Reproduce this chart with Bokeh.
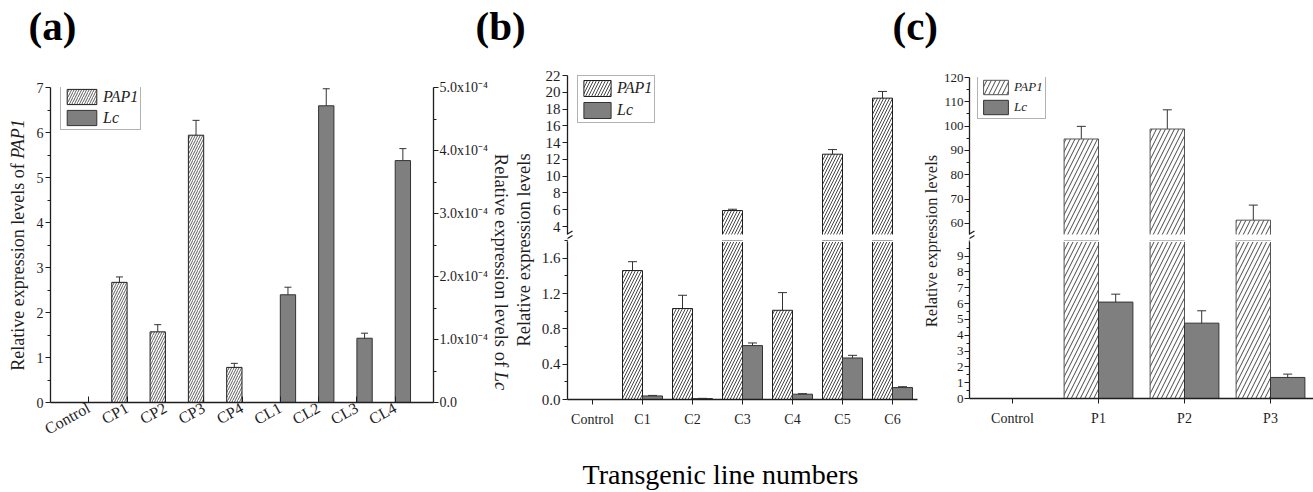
import math
from bokeh.plotting import figure
from bokeh.models import (ColumnDataSource, Range1d, LinearAxis, FixedTicker,
                          CustomJSTickFormatter, NumeralTickFormatter, Whisker, TeeHead,
                          Label, Legend, LegendItem, BoxAnnotation, Arrow, Div)
from bokeh.transform import dodge
from bokeh.layouts import row, column
from bokeh.embed import file_html
from bokeh.resources import INLINE

# ---------------- data ----------------
a_categories = ["Control", "CP1", "CP2", "CP3", "CP4", "CL1", "CL2", "CL3", "CL4"]
a_pap1 = [0.0, 2.67, 1.57, 5.94, 0.78, 0.0, 0.0, 0.0, 0.0]
a_pap1_err = [0.0, 0.12, 0.16, 0.33, 0.09, 0.0, 0.0, 0.0, 0.0]
a_lc = [0.0, 0.0, 0.0, 0.0, 0.0, 1.71e-4, 4.71e-4, 1.02e-4, 3.84e-4]
a_lc_err = [0.0, 0.0, 0.0, 0.0, 0.0, 0.12e-4, 0.27e-4, 0.08e-4, 0.19e-4]

b_categories = ["Control", "C1", "C2", "C3", "C4", "C5", "C6"]
b_pap1 = [0.0, 1.46, 1.03, 5.91, 1.01, 12.62, 19.3]
b_pap1_err = [0.0, 0.10, 0.15, 0.15, 0.20, 0.55, 0.80]
b_lc = [0.0, 0.04, 0.01, 0.61, 0.06, 0.47, 0.135]
b_lc_err = [0.0, 0.006, 0.003, 0.03, 0.006, 0.03, 0.01]

c_categories = ["Control", "P1", "P2", "P3"]
c_pap1 = [0.0, 94.7, 98.8, 61.3]
c_pap1_err = [0.0, 5.2, 7.9, 6.2]
c_lc = [0.0, 6.09, 4.76, 1.33]
c_lc_err = [0.0, 0.5, 0.78, 0.21]

a_left_ticks = [0, 1, 2, 3, 4, 5, 6, 7]
a_right_ticks = [0.0, 1e-4, 2e-4, 3e-4, 4e-4, 5e-4]
b_upper_ticks = [4, 6, 8, 10, 12, 14, 16, 18, 20, 22]
b_lower_ticks = [0.0, 0.4, 0.8, 1.2, 1.6]
c_upper_ticks = [60, 70, 80, 90, 100, 110, 120]
c_lower_ticks = [0, 1, 2, 3, 4, 5, 6, 7, 8, 9]

series_names = ["PAP1", "Lc"]
y_label_plain = "Relative expression levels of"
y_label_short = "Relative expression levels"
x_title = "Transgenic line numbers"
panel_tags = ["(a)", "(b)", "(c)"]

# ---------------- style ----------------
FONT = "Liberation Serif"
INK = "#1e1e1e"
BAR_GRAY = "#7f7f7f"
GAP = 6            # px of white space at an axis break
ROW_H = 395        # height of the panel row (page y 60..455)


def make_fig(width, height, x_range, y_range, left, right, top, bottom, x_axis=True):
    p = figure(width=width, height=height, x_range=x_range, y_range=y_range,
               output_backend="svg", toolbar_location=None,
               x_axis_location="below" if x_axis else None,
               min_border_left=left, min_border_right=right,
               min_border_top=top, min_border_bottom=bottom)
    p.outline_line_color = None
    p.grid.visible = False
    p.background_fill_color = "white"
    p.border_fill_color = "white"
    return p


def text_fig(width, height):
    p = figure(width=width, height=height, x_range=Range1d(0, width),
               y_range=Range1d(height, 0), output_backend="svg",
               toolbar_location=None, x_axis_location=None, y_axis_location=None,
               min_border=0)
    p.outline_line_color = None
    p.grid.visible = False
    p.background_fill_color = "white"
    p.border_fill_color = "white"
    return p


def vlabel(width, cx, cy, html, fs, up=True):
    """vertical axis title as real (HTML) text, centred at (cx, cy) inside its column"""
    rot = -90 if up else 90
    inner = (f'<div style="position:relative;width:{width}px;height:{ROW_H}px;">'
             f'<div style="position:absolute;left:{cx}px;top:{cy}px;'
             f'transform:translate(-50%,-50%) rotate({rot}deg);white-space:nowrap;'
             f"font-family:'{FONT}',serif;font-size:{fs}px;line-height:1;"
             f'color:{INK};">{html}</div></div>')
    return Div(text=inner, width=width, height=ROW_H, margin=0)


def style_axis(ax, size, standoff=3):
    ax.axis_line_color = INK
    ax.axis_line_width = 1.3
    ax.major_tick_line_color = INK
    ax.minor_tick_line_color = INK
    ax.major_tick_out = 5
    ax.major_tick_in = 0
    ax.minor_tick_out = 3
    ax.minor_tick_in = 0
    ax.major_label_text_font = FONT
    ax.major_label_text_font_size = f"{size}px"
    ax.major_label_text_color = INK
    ax.major_label_standoff = standoff


def add_bars(p, src, hatch_scale, hatch_weight=0.9, line_color=INK, lc_range="default"):
    r1 = p.vbar(x=dodge("x", -0.2), top="pap1", width=0.4, source=src,
                fill_color="white", line_color=line_color, line_width=1,
                hatch_pattern="/", hatch_color="#333333", hatch_scale=hatch_scale,
                hatch_weight=hatch_weight)
    r2 = p.vbar(x=dodge("x", 0.2), top="lc", width=0.4, source=src,
                fill_color=BAR_GRAY, line_color="#333333", line_width=1,
                y_range_name=lc_range)
    return r1, r2


def add_whiskers(p, xs, vals, errs, offset, lo, hi, head, range_name="default"):
    keep = [i for i in range(len(xs)) if errs[i] > 0 and lo <= vals[i] <= hi]
    if not keep:
        return
    src = ColumnDataSource(dict(
        x=[xs[i] for i in keep],
        upper=[vals[i] + errs[i] for i in keep],
        lower=[vals[i] - errs[i] for i in keep]))
    w = Whisker(base=dodge("x", offset), upper="upper", lower="lower", source=src,
                dimension="height", line_color="#333333", line_width=1,
                upper_head=TeeHead(size=head, line_color="#333333", line_width=1),
                lower_head=TeeHead(size=head, line_color="#333333", line_width=1),
                y_range_name=range_name)
    p.add_layout(w)


def add_legend(p, r1, r2, loc, gw, gh, fs):
    leg = Legend(items=[LegendItem(label=series_names[0], renderers=[r1]),
                        LegendItem(label=series_names[1], renderers=[r2])],
                 location=loc, orientation="vertical",
                 label_text_font=FONT, label_text_font_style="italic",
                 label_text_font_size=f"{fs}px", label_text_color=INK,
                 glyph_width=gw, glyph_height=gh, label_height=gh,
                 padding=2, spacing=2, margin=0, label_standoff=3,
                 border_line_color="#666666", border_line_width=1,
                 background_fill_color="white", background_fill_alpha=1.0)
    p.add_layout(leg)


def break_top(p, x0, px_x, y_start, px_y, frame_bottom_px):
    """white gap at the bottom of an upper panel + two slanted break strokes."""
    y_break = y_start + GAP / px_y
    p.add_layout(BoxAnnotation(top=y_break, fill_color="white", fill_alpha=1.0,
                               line_color=None))

    def ydat(ypx):
        return y_start + (frame_bottom_px - ypx) / px_y

    for off in (0, 4.5):
        p.add_layout(Arrow(start=None, end=None,
                           x_start=x0 - 5 / px_x, y_start=ydat(236.5 + off),
                           x_end=x0 + 5 / px_x, y_end=ydat(230.5 + off),
                           line_color=INK, line_width=1.2))
    return y_break


def break_bottom(p, y_end, px_y):
    p.add_layout(BoxAnnotation(bottom=y_end - 1.5 / px_y, fill_color="white",
                               fill_alpha=1.0, line_color=None))


# ---------------- panel (a) ----------------
a_x = list(range(len(a_categories)))
src_a = ColumnDataSource(dict(x=a_x, pap1=a_pap1, lc=a_lc))
pa = make_fig(462, ROW_H, Range1d(-1, len(a_categories)), Range1d(0, 7),
              left=22, right=55, top=27, bottom=53)
pa.extra_y_ranges = {"lc": Range1d(0, 5e-4)}
ra1, ra2 = add_bars(pa, src_a, hatch_scale=5, hatch_weight=0.8, lc_range="lc")
add_whiskers(pa, a_x, a_pap1, a_pap1_err, -0.2, 0, 7, 7)
add_whiskers(pa, a_x, a_lc, a_lc_err, 0.2, 0, 5e-4, 7, range_name="lc")

pa.yaxis.ticker = FixedTicker(ticks=a_left_ticks,
                              minor_ticks=[t + 0.5 for t in a_left_ticks[:-1]])
style_axis(pa.yaxis[0], 14, standoff=2)
pa.xaxis.ticker = FixedTicker(ticks=a_x)
pa.xaxis.major_label_overrides = {i: c for i, c in enumerate(a_categories)}
style_axis(pa.xaxis[0], 16, standoff=4)
pa.xaxis.major_tick_in = 6
pa.xaxis.major_tick_out = 0
pa.xaxis.major_label_orientation = 0.5

right_ax = LinearAxis(y_range_name="lc",
                      ticker=FixedTicker(ticks=a_right_ticks,
                                         minor_ticks=[t + 0.5e-4 for t in a_right_ticks[:-1]]),
                      formatter=CustomJSTickFormatter(code="""
                          if (Math.abs(tick) < 1e-12) { return "0.0"; }
                          return (tick * 1e4).toFixed(1) + "x10\u207B\u2074";
                      """))
style_axis(right_ax, 14, standoff=1)
pa.add_layout(right_ax, "right")
add_legend(pa, ra1, ra2, (10, 272), 37, 19, 16)

labA = vlabel(28, 17.5, 245 - 60, f"{y_label_plain} <i>{series_names[0]}</i>", 18, up=True)
labAR = vlabel(22, 11, 271.7 - 60, f"{y_label_plain} <i>{series_names[1]}</i>", 18.5, up=False)

# ---------------- panel (b) ----------------
b_x = list(range(len(b_categories)))
src_b = ColumnDataSource(dict(x=b_x, pap1=b_pap1, lc=b_lc))
b_xr = Range1d(-0.5, len(b_categories) - 0.5)
b_px_x = 350 / len(b_categories)
b_up_px = 8.39
b_up = (3.05 - GAP / b_up_px, 22.0)
b_lo = (0.0, 1.8)
b_lo_px = 159 / 1.8

pbt = make_fig(384, 180, b_xr, Range1d(*b_up), left=33, right=1, top=15, bottom=0,
               x_axis=False)
rb1, rb2 = add_bars(pbt, src_b, hatch_scale=6)
add_whiskers(pbt, b_x, b_pap1, b_pap1_err, -0.2, b_up[0], b_up[1], 9)
pbt.yaxis.ticker = FixedTicker(ticks=b_upper_ticks)
style_axis(pbt.yaxis[0], 15, standoff=2)
add_legend(pbt, rb1, rb2, (10, 117), 34, 20, 16)
yb = break_top(pbt, -0.5, b_px_x, b_up[0], b_up_px, 240)
pbt.yaxis.bounds = (yb, b_up[1])

pbb = make_fig(384, 215, b_xr, Range1d(*b_lo), left=33, right=1, top=0, bottom=56)
add_bars(pbb, src_b, hatch_scale=6)
add_whiskers(pbb, b_x, b_pap1, b_pap1_err, -0.2, b_lo[0], b_lo[1], 9)
add_whiskers(pbb, b_x, b_lc, b_lc_err, 0.2, b_lo[0], b_lo[1], 9)
pbb.yaxis.ticker = FixedTicker(ticks=b_lower_ticks,
                               minor_ticks=[t + 0.2 for t in b_lower_ticks])
pbb.yaxis.formatter = NumeralTickFormatter(format="0.0")
style_axis(pbb.yaxis[0], 15, standoff=2)
pbb.xaxis.ticker = FixedTicker(ticks=b_x)
pbb.xaxis.major_label_overrides = {i: c for i, c in enumerate(b_categories)}
style_axis(pbb.xaxis[0], 14, standoff=7)
break_bottom(pbb, b_lo[1], b_lo_px)

labB = vlabel(22, 12, 250 - 60, y_label_short, 18.5, up=True)

# ---------------- panel (c) ----------------
c_x = list(range(len(c_categories)))
src_c = ColumnDataSource(dict(x=c_x, pap1=c_pap1, lc=c_lc))
c_xr = Range1d(-0.5, len(c_categories) - 0.5)
c_px_x = 347 / len(c_categories)
c_up_px = 2.43
c_up = (55.4 - GAP / c_up_px, 120.0)
c_lo = (0.0, 9.98)
c_lo_px = 158 / 9.98

pct = make_fig(373, 180, c_xr, Range1d(*c_up), left=26, right=0, top=17, bottom=0,
               x_axis=False)
rc1, rc2 = add_bars(pct, src_c, hatch_scale=9, line_color="#555555")
add_whiskers(pct, c_x, c_pap1, c_pap1_err, -0.2, c_up[0], c_up[1], 9)
pct.yaxis.ticker = FixedTicker(ticks=c_upper_ticks,
                               minor_ticks=[t + 5 for t in c_upper_ticks[:-1]])
style_axis(pct.yaxis[0], 13, standoff=1)
add_legend(pct, rc1, rc2, (8, 121), 31, 18, 13)
yc = break_top(pct, -0.5, c_px_x, c_up[0], c_up_px, 240)
pct.yaxis.bounds = (yc, c_up[1])

pcb = make_fig(373, 215, c_xr, Range1d(*c_lo), left=26, right=0, top=0, bottom=57)
add_bars(pcb, src_c, hatch_scale=9, line_color="#555555")
add_whiskers(pcb, c_x, c_pap1, c_pap1_err, -0.2, c_lo[0], c_lo[1], 9)
add_whiskers(pcb, c_x, c_lc, c_lc_err, 0.2, c_lo[0], c_lo[1], 9)
pcb.yaxis.ticker = FixedTicker(ticks=c_lower_ticks,
                               minor_ticks=[t + 0.5 for t in c_lower_ticks])
style_axis(pcb.yaxis[0], 13, standoff=1)
pcb.xaxis.ticker = FixedTicker(ticks=c_x)
pcb.xaxis.major_label_overrides = {i: c for i, c in enumerate(c_categories)}
style_axis(pcb.xaxis[0], 14, standoff=7)
break_bottom(pcb, c_lo[1], c_lo_px)

labC = vlabel(22, 13.7, 240.5 - 60, y_label_short, 16.5, up=True)

# ---------------- strips ----------------
top = text_fig(1313, 60)
for tag, xpos in zip(panel_tags, [28, 475, 892]):
    top.add_layout(Label(x=xpos, y=25.5, text=tag, text_align="left",
                         text_baseline="middle", text_font=FONT,
                         text_font_style="bold", text_font_size="41px",
                         text_color="black"))

bottom = text_fig(1313, 37)
bottom.add_layout(Label(x=720, y=18.6, text=x_title, text_align="center",
                        text_baseline="middle", text_font=FONT,
                        text_font_size="28px", text_color="black"))

layout = column(top,
                row(labA, pa, labAR, labB, column(pbt, pbb), labC, column(pct, pcb)),
                bottom)

open("out.html", "w").write(file_html(layout, INLINE))
